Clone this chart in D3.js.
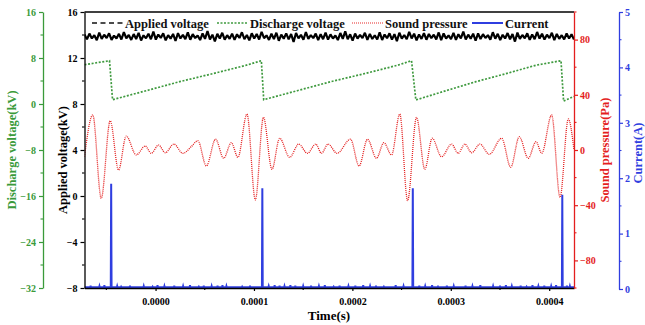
<!DOCTYPE html>
<html>
<head>
<meta charset="utf-8">
<script src="https://cdn.jsdelivr.net/npm/d3@7"></script>
<style>
  body { margin: 0; background: #fff; }
  svg { display: block; font-family: "Liberation Serif", "DejaVu Serif", serif; font-weight: bold; }
</style>
</head>
<body>
<svg id="chart" width="645" height="325"></svg>
<script>
// time in microseconds, voltage in kV, pressure in Pa, current in A
const timeDomain = [-72.2, 425.2];
const timeTicks = [0, 100, 200, 300, 400];

// applied voltage: sampled noisy trace (kV), evenly spaced over the window
const appliedKV = [
  14.05,13.62,14.12,13.70,13.98,13.55,14.20,13.66,14.02,13.74,14.15,13.58,13.95,13.69,14.10,13.61,14.25,13.72,14.00,13.57,
  14.08,13.65,14.18,13.52,13.97,13.71,14.11,13.63,14.30,13.60,14.04,13.75,14.14,13.54,13.99,13.68,14.09,13.48,14.16,13.70,
  14.01,13.64,14.22,13.59,14.07,13.73,13.96,13.56,14.13,13.67,14.35,13.62,14.03,13.45,14.10,13.70,14.19,13.60,13.98,13.66,
  14.12,13.58,14.06,13.74,14.24,13.63,14.00,13.53,14.15,13.69,14.08,13.61,14.28,13.72,13.97,13.57,14.11,13.65,14.20,13.50,
  14.03,13.68,14.14,13.62,14.09,13.40,14.18,13.71,14.02,13.59,14.26,13.66,13.99,13.73,14.12,13.55,14.07,13.64,14.21,13.60,
  14.05,13.70,13.96,13.56,14.17,13.67,14.32,13.63,14.06,13.52,14.13,13.69,14.01,13.74,14.19,13.58,14.10,13.65,13.98,13.61,
  14.23,13.57,14.04,13.72,14.15,13.60,14.08,13.47,14.20,13.68,14.00,13.63,14.27,13.70,14.11,13.54,14.05,13.66,14.16,13.59,
  14.09,13.73,14.02,13.62,14.22,13.55,14.13,13.69,13.97,13.64,14.18,13.58,14.06,13.71,14.29,13.61,14.03,13.67,14.12,13.50,
  14.14,13.65,14.07,13.74,13.99,13.60,14.24,13.68,14.10,13.56,14.02,13.70,14.17,13.63,14.08,13.43,14.21,13.66,14.00,13.72,
  14.15,13.58,14.05,13.64,14.26,13.69,14.11,13.61,14.03,13.73,14.19,13.55,14.09,13.67,13.98,13.62,14.13,13.70,14.06,13.60
];

// discharge voltage sawtooth
const dischargeT  = [-72.2, -46.8, -43.7, -9.5, 24.4, 58.0, 92.3, 107.5, 109.9, 143.9, 178.0, 212.1, 246.2, 260.1, 264.5, 295.0, 325.5, 356.0, 386.6, 412.0, 414.6, 425.2];
const dischargeKV = [6.83, 7.53, 0.75, 2.31, 3.88, 5.27, 6.75, 7.53, 0.75, 2.31, 3.88, 5.27, 6.75, 7.53, 0.70, 2.31, 3.88, 5.27, 6.75, 7.53, 0.51, 1.32];

// sound pressure: turning points of the waveform
const soundT = [-72.2, -63.8, -55.2, -46.1, -37.6, -29.8, -19.6, -10.5, -4.4, 3.1, 9.9, 18.6, 27.8, 36.3, 43.0, 51.6, 61.0, 69.2, 77.0, 83.7,
  92.9, 101.4, 109.6, 118.3, 126.1, 136.3, 145.5, 154.3, 162.8, 168.6, 175.3, 184.4, 198.1, 206.8, 215.4, 224.5, 232.0, 239.8,
  248.2, 256.1, 265.2, 273.6, 281.1, 290.6, 300.8, 307.5, 314.3, 321.2, 329.6, 339.1, 351.7, 360.9, 369.6, 378.7, 386.6, 392.4,
  402.5, 411.0, 419.4, 425.2];
const soundPa = [-4.9, 25.4, -35.0, 21.2, -14.5, 10.1, -3.6, 2.9, -2.4, 3.6, -2.0, 4.3, -2.4, 2.4, 6.7, -11.6, 7.8, -6.0, 5.3, -5.3,
  26.1, -36.2, 23.7, -14.0, 8.5, -5.3, 4.3, -2.4, 4.3, -2.4, 4.3, -2.4, 7.8, -11.6, 7.8, -6.0, 5.3, -3.6,
  26.1, -36.7, 23.7, -14.0, 8.5, -4.9, 4.3, -2.4, 4.3, -2.0, 4.3, -3.1, 8.5, -12.5, 9.6, -6.0, 6.0, -2.4,
  25.4, -34.3, 22.5, 0.0];

// current pulses and the small baseline blips
const pulseT = [-45.1, 108.5, 261.4, 413.3];
const pulseA = [1.90, 1.82, 1.82, 1.70];
const blipT = [-66, -57, -52, -39, -35, -26, -12, -3, 2, 9, 19, 28, 35, 44, 49, 57, 63, 68, 72, 88, 96,
  115, 121, 126, 131, 137, 142, 150, 158, 166, 172, 181, 187, 196, 203, 211, 218, 224, 232, 244, 252,
  268, 274, 281, 287, 296, 303, 315, 322, 330, 343, 350, 356, 362, 371, 377, 383, 389, 395, 402, 407, 418, 421];
const blipA = [0.06, 0.05, 0.07, 0.05, 0.04, 0.06, 0.05, 0.04, 0.07, 0.05, 0.06, 0.05, 0.07, 0.04, 0.06, 0.05, 0.06, 0.07, 0.05, 0.04, 0.06,
  0.05, 0.07, 0.06, 0.05, 0.07, 0.06, 0.05, 0.06, 0.05, 0.07, 0.04, 0.06, 0.05, 0.06, 0.07, 0.05, 0.06, 0.04, 0.07, 0.05,
  0.06, 0.05, 0.07, 0.04, 0.06, 0.05, 0.06, 0.05, 0.07, 0.05, 0.06, 0.07, 0.05, 0.06, 0.04, 0.07, 0.05, 0.06, 0.05, 0.07, 0.06, 0.05];
const currentBase = 0.03;

const appliedTicks = [-8, -4, 0, 4, 8, 12, 16];
const dischargeTicks = [-32, -24, -16, -8, 0, 8, 16];
const soundTicks = [-80, -40, 0, 40, 80];
const currentTicks = [0, 1, 2, 3, 4, 5];

const legendItems = [
  { name: "Applied voltage", color: "#111", dash: "5,3.5", width: 1.6 },
  { name: "Discharge voltage", color: "#3f9a3f", dash: "2,1.5", width: 1.6 },
  { name: "Sound pressure", color: "#e82a2a", dash: "1,1", width: 1.2 },
  { name: "Current", color: "#2f3ee0", dash: null, width: 2 }
];

const green = "#3a9a3a", red = "#e41e1e", blue = "#2f3ee0";

const svg = d3.select("#chart");
const L = 84.5, R = 574, T = 12, B = 288;

const x = d3.scaleLinear().domain(timeDomain).range([L, R]);
const yApplied = d3.scaleLinear().domain([-8, 16]).range([B, T]);
const yDischarge = d3.scaleLinear().domain([-32, 16]).range([B, T]);
const ySound = d3.scaleLinear().domain([-100, 100]).range([B, T]);
const yCurrent = d3.scaleLinear().domain([0, 5]).range([B + 1, T]);

const plot = svg.append("g");
svg.append("defs").append("clipPath").attr("id", "clip")
  .append("rect").attr("x", L).attr("y", T).attr("width", R - L).attr("height", B - T);
plot.attr("clip-path", "url(#clip)");

// current
const currentPts = [[timeDomain[0], currentBase]];
const events = [];
pulseT.forEach((t, i) => events.push({ t, a: pulseA[i], w: 0.4 }));
blipT.forEach((t, i) => events.push({ t, a: blipA[i], w: 0.3 }));
events.sort((a, b) => a.t - b.t);
events.forEach(e => {
  currentPts.push([e.t - e.w, currentBase], [e.t, e.a], [e.t + e.w, currentBase]);
});
currentPts.push([timeDomain[1], currentBase]);
plot.append("path")
  .attr("d", d3.line().x(d => x(d[0])).y(d => yCurrent(d[1]))(currentPts))
  .attr("fill", "none").attr("stroke", blue).attr("stroke-width", 2);

// applied voltage
const step = (timeDomain[1] - timeDomain[0]) / (appliedKV.length - 1);
plot.append("path")
  .attr("d", d3.line().x((d, i) => x(timeDomain[0] + i * step)).y(d => yApplied(d))(appliedKV))
  .attr("fill", "none").attr("stroke", "#000").attr("stroke-width", 2.2).attr("stroke-linejoin", "bevel");

// sound pressure
plot.append("path")
  .attr("d", d3.line().curve(d3.curveMonotoneX).x((d, i) => x(soundT[i])).y(d => ySound(d))(soundPa))
  .attr("fill", "none").attr("stroke", red).attr("stroke-width", 1.3).attr("stroke-dasharray", "1,1");

// discharge voltage
plot.append("path")
  .attr("d", d3.line().x((d, i) => x(dischargeT[i])).y(d => yDischarge(d))(dischargeKV))
  .attr("fill", "none").attr("stroke", "#3f9a3f").attr("stroke-width", 1.7).attr("stroke-dasharray", "2,1.6");

// frame top
svg.append("line").attr("x1", L).attr("x2", R).attr("y1", T).attr("y2", T).attr("stroke", "#000").attr("stroke-width", 1.3);

function styleAxis(g, color) {
  g.selectAll("path").attr("stroke", color).attr("stroke-width", 1.3);
  g.selectAll("line").attr("stroke", color).attr("stroke-width", 1.2);
  g.selectAll("text").attr("fill", color).attr("font-size", 10).attr("font-family", "Liberation Serif").attr("font-weight", "bold");
}

function minor(scale, vals, xPos, dir, color) {
  svg.append("g").selectAll("line").data(vals).join("line")
    .attr("x1", xPos).attr("x2", xPos + dir * 2.5)
    .attr("y1", d => scale(d)).attr("y2", d => scale(d))
    .attr("stroke", color).attr("stroke-width", 1.1);
}

// x axis
const gx = svg.append("g").attr("transform", `translate(0,${B})`)
  .call(d3.axisBottom(x).tickValues(timeTicks).tickSize(3).tickPadding(7).tickFormat(d => (d / 1e6).toFixed(4)).tickSizeOuter(0));
styleAxis(gx, "#000");
svg.append("g").selectAll("line").data([-50, 50, 150, 250, 350]).join("line")
  .attr("x1", d => x(d)).attr("x2", d => x(d)).attr("y1", B).attr("y2", B + 2)
  .attr("stroke", "#000").attr("stroke-width", 1.1);

// applied voltage axis
const ga = svg.append("g").attr("transform", `translate(${L},0)`)
  .call(d3.axisLeft(yApplied).tickValues(appliedTicks).tickSize(4).tickPadding(3).tickSizeOuter(0));
styleAxis(ga, "#000");
minor(yApplied, [-6, -2, 2, 6, 10, 14], L, -1, "#000");

// discharge axis
const gd = svg.append("g").attr("transform", `translate(43,0)`)
  .call(d3.axisLeft(yDischarge).tickValues(dischargeTicks).tickSize(4).tickPadding(3).tickSizeOuter(0));
styleAxis(gd, green);
minor(yDischarge, [-28, -20, -12, -4, 4, 12], 43, -1, green);

// sound axis
const gs = svg.append("g").attr("transform", `translate(${R},0)`)
  .call(d3.axisRight(ySound).tickValues(soundTicks).tickSize(4).tickPadding(2).tickSizeOuter(0));
styleAxis(gs, red);
minor(ySound, [-100, -60, -20, 20, 60, 100], R, 1, red);

// current axis
const gc = svg.append("g").attr("transform", `translate(619,0)`)
  .call(d3.axisRight(yCurrent).tickValues(currentTicks).tickFormat(d3.format("d")).tickSize(4).tickPadding(2).tickSizeOuter(0));
styleAxis(gc, blue);
minor(yCurrent, [0.5, 1.5, 2.5, 3.5, 4.5], 619, 1, blue);

// axis titles
function vtitle(txt, cx, cy, color) {
  svg.append("text").attr("transform", `translate(${cx},${cy}) rotate(-90)`)
    .attr("text-anchor", "middle").attr("font-size", 12.5).attr("fill", color).text(txt);
}
vtitle("Discharge voltage(kV)", 16, 150, green);
vtitle("Applied voltage(kV)", 67, 160, "#000");
vtitle("Sound pressure(Pa)", 609, 150, red);
vtitle("Current(A)", 642, 153, blue);
svg.append("text").attr("x", 329).attr("y", 320).attr("text-anchor", "middle")
  .attr("font-size", 13).attr("fill", "#000").text("Time(s)");

// legend
const legendX = [92, 217, 352, 472];
const leg = svg.append("g").selectAll("g").data(legendItems).join("g")
  .attr("transform", (d, i) => `translate(${legendX[i]},23)`);
leg.append("line").attr("x1", 0).attr("x2", 31).attr("y1", 0).attr("y2", 0)
  .attr("stroke", d => d.color).attr("stroke-width", d => d.width)
  .attr("stroke-dasharray", d => d.dash);
leg.append("text").attr("x", 33).attr("y", 4.5).attr("font-size", 12.5).attr("fill", "#111").text(d => d.name);
</script>
</body>
</html>
